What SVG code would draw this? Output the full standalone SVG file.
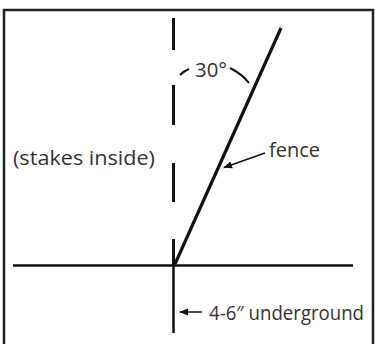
<svg xmlns="http://www.w3.org/2000/svg" width="375" height="344" viewBox="0 0 375 344">
<style>
.t{font-family:"Open Sans","Noto Sans",sans-serif;font-size:20px;fill:#333}
.ln{stroke:#111;fill:none;stroke-linecap:butt}
</style>
<defs>
<marker id="ah" viewBox="0 0 10 10" refX="9" refY="5" markerWidth="9" markerHeight="9" markerUnits="userSpaceOnUse" orient="auto">
<path d="M0,1 L10,5 L0,9 Z" fill="#111"/>
</marker>
</defs>
<rect x="4" y="10" width="369" height="345" fill="#fff" stroke="#222" stroke-width="2.5"/>
<g id="connectors">
<path class="ln" stroke-width="3" d="M173.5,18 V50 M173.5,85 V125 M173.5,163 V202 M173.5,239 V265"/>
<path class="ln" stroke-width="2.5" d="M173.5,265 V333"/>
<path class="ln" stroke-width="2.5" d="M13,265.5 H353"/>
<path class="ln" stroke-width="3.2" d="M175,264 L281,28"/>
<path class="ln" stroke-width="2" d="M180,75 Q184,71 189,69 M230,68 Q242,74 249,83"/>
<path class="ln" stroke-width="1.5" d="M265,153 L224,167.5" marker-end="url(#ah)"/>
<path class="ln" stroke-width="1.5" d="M202,312 L180,312" marker-end="url(#ah)"/>
</g>
<g id="label-angle"><text class="t" x="195" y="77" textLength="32" lengthAdjust="spacingAndGlyphs">30°</text></g>
<g id="label-stakes"><text class="t" x="13" y="165" textLength="142" lengthAdjust="spacingAndGlyphs">(stakes inside)</text></g>
<g id="label-fence"><text class="t" x="269" y="157" textLength="51" lengthAdjust="spacingAndGlyphs">fence</text></g>
<g id="label-underground"><text class="t" x="209" y="320" textLength="155" lengthAdjust="spacingAndGlyphs">4-6″ underground</text></g>
</svg>
